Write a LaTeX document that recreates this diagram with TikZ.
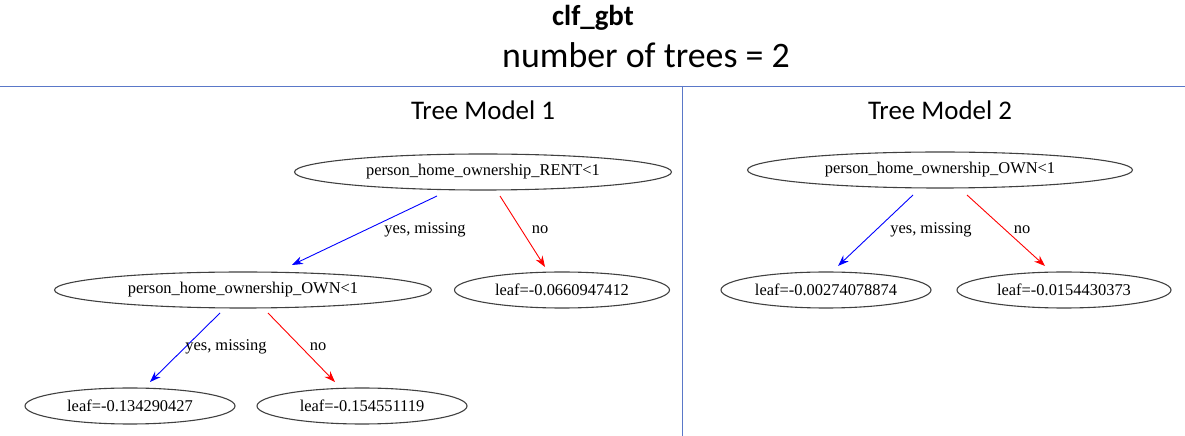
\documentclass[tikz,border=0pt]{standalone}
\usepackage{fontspec}
\setmainfont{Liberation Serif}
\newfontfamily\calfont{Carlito}
\usetikzlibrary{shapes.geometric,arrows.meta,calc}
\begin{document}
\begin{tikzpicture}[x=1bp,y=-1bp,
  nd/.style={ellipse,draw=black!75,line width=1.1pt,minimum height=36bp,inner sep=0pt,font=\fontsize{16.5}{19}\selectfont},
  yes/.style={draw=blue,line width=0.9pt,-{Stealth[length=11bp,width=8bp]}},
  nob/.style={draw=red,line width=0.9pt,-{Stealth[length=11bp,width=8bp]}},
  lab/.style={font=\fontsize{16.5}{19}\selectfont}]
\useasboundingbox (0,0) rectangle (1185,436);
\node[font=\calfont\bfseries\fontsize{29}{34}\selectfont] (t) at (593,18) {clf\_gbt};
\node[font=\calfont\fontsize{36}{40}\selectfont] (s) at (646,55) {number of trees = 2};
\coordinate (h1) at (0,86); \coordinate (h2) at (1185,86);
\coordinate (v1) at (682,86); \coordinate (v2) at (682,436);
\draw[draw={rgb,255:red,90;green,120;blue,200},line width=0.8pt] (h1)--(h2) (v1)--(v2);
\node[font=\calfont\fontsize{27}{32}\selectfont] (m1) at (483,110) {Tree Model 1};
\node[font=\calfont\fontsize{27}{32}\selectfont] (m2) at (940,110) {Tree Model 2};
\node[nd,minimum width=377bp] (r1) at (483,172) {person\_home\_ownership\_RENT<1};
\node[nd,minimum width=377bp] (o1) at (243,290) {person\_home\_ownership\_OWN<1};
\node[nd,minimum width=215bp] (l1) at (562,290) {leaf=-0.0660947412};
\node[nd,minimum width=210bp] (l2) at (130,406) {leaf=-0.134290427};
\node[nd,minimum width=210bp] (l3) at (362,406) {leaf=-0.154551119};
\node[nd,minimum width=385bp] (r2) at (940,170) {person\_home\_ownership\_OWN<1};
\node[nd,minimum width=210bp] (l4) at (826,290) {leaf=-0.00274078874};
\node[nd,minimum width=214bp] (l5) at (1064,290) {leaf=-0.0154430373};
\draw[yes] ($(r1)+(-46,24)$) -- ($(o1)+(49,-25)$);
\draw[nob] ($(r1)+(17,24)$) -- ($(l1)+(-17,-23)$);
\node[lab] (y1) at (425,230) {yes, missing};
\node[lab] (n1) at (540,230) {no};
\draw[yes] ($(o1)+(-23,23)$) -- ($(l2)+(20,-24)$);
\draw[nob] ($(o1)+(25,23)$) -- ($(l3)+(-27,-24)$);
\node[lab] (y2) at (226,347) {yes, missing};
\node[lab] (n2) at (318,347) {no};
\draw[yes] ($(r2)+(-27,25)$) -- ($(l4)+(12,-24)$);
\draw[nob] ($(r2)+(27,25)$) -- ($(l5)+(-19,-24)$);
\node[lab] (y3) at (931,230) {yes, missing};
\node[lab] (n3) at (1022,230) {no};
\end{tikzpicture}
\end{document}
